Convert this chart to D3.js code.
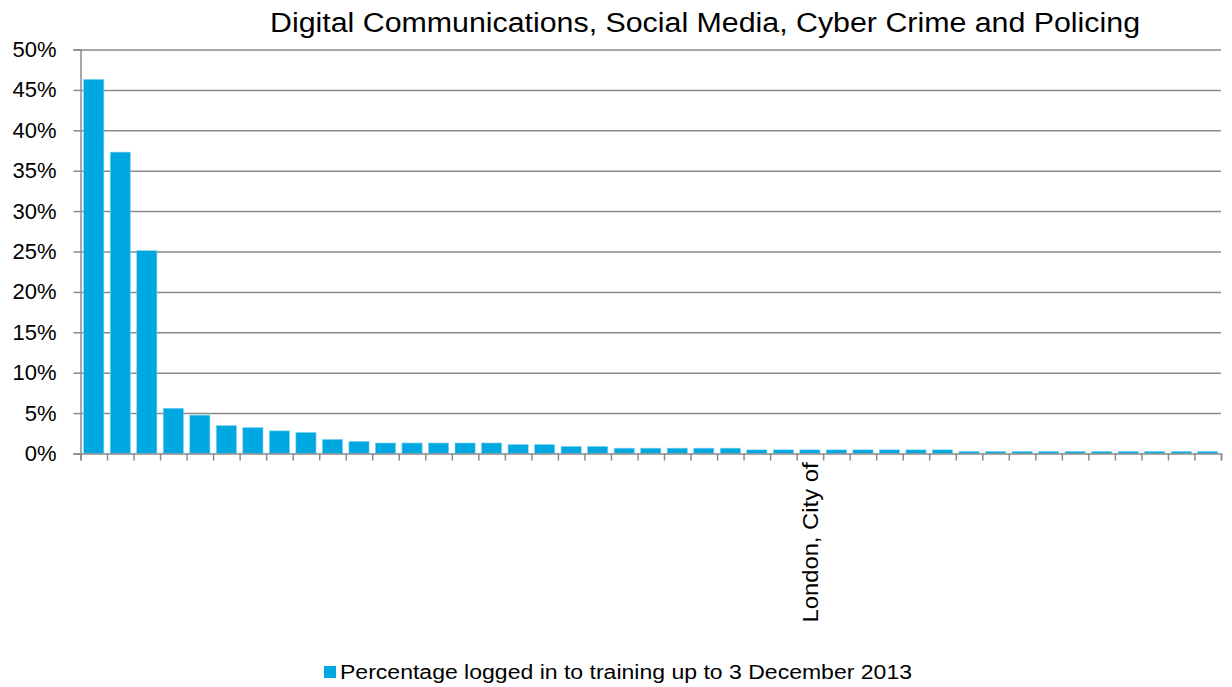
<!DOCTYPE html>
<html>
<head>
<meta charset="utf-8">
<script src="https://cdn.jsdelivr.net/npm/d3@7"></script>
<style>
  html, body { margin: 0; padding: 0; background: #fff; }
  svg { display: block; font-family: "Liberation Sans", Arial, sans-serif; }
</style>
</head>
<body>
<svg id="chart" width="1232" height="687"></svg>
<script>
// ---- data ----
const title = "Digital Communications, Social Media, Cyber Crime and Policing";
const seriesName = "Percentage logged in to training up to 3 December 2013";
// 43 forces; only one category label is visible in the original chart
const categoryLabels = [
  "", "", "", "", "", "", "", "", "", "",
  "", "", "", "", "", "", "", "", "", "",
  "", "", "", "", "", "", "", "London, City of", "", "",
  "", "", "", "", "", "", "", "", "", "",
  "", "", ""
];
const values = [
  46.3, 37.3, 25.1, 5.6, 4.75, 3.45, 3.2, 2.8, 2.6, 1.74,
  1.5, 1.3, 1.3, 1.3, 1.3, 1.3, 1.1, 1.1, 0.87, 0.87,
  0.66, 0.66, 0.66, 0.66, 0.66, 0.45, 0.45, 0.45, 0.45, 0.45,
  0.45, 0.45, 0.45, 0.25, 0.25, 0.25, 0.25, 0.25, 0.25, 0.25,
  0.25, 0.25, 0.25
];
const yTicks = [0, 5, 10, 15, 20, 25, 30, 35, 40, 45, 50];

// ---- layout ----
const svg = d3.select("#chart");
const plotLeft = 80.5, plotRight = 1221, plotTop = 49.5, plotBottom = 453.5;
const barColor = "#00a8e1";
const gridColor = "#8a8a8a";

const idx = d3.range(values.length);
const x = d3.scaleBand().domain(idx).range([plotLeft, plotRight]).paddingInner(0.24).paddingOuter(0.12);
const xEdge = d3.scaleLinear().domain([0, values.length]).range([plotLeft, plotRight]);
const y = d3.scaleLinear().domain([0, 50]).range([plotBottom, plotTop]);

// gridlines
svg.append("g")
  .attr("transform", `translate(${plotLeft},0)`)
  .call(d3.axisLeft(y).tickValues(yTicks.slice(1)).tickSize(-(plotRight - plotLeft)).tickFormat(""))
  .call(g => g.select(".domain").remove())
  .call(g => g.selectAll("line").attr("stroke", gridColor).attr("stroke-width", 1.5));

// bars
svg.append("g").selectAll("rect").data(values).join("rect")
  .attr("x", (d, i) => x(i))
  .attr("width", x.bandwidth())
  .attr("y", d => y(d))
  .attr("height", d => y(0) - y(d))
  .attr("fill", barColor)
  .attr("stroke", "#7fd3f0")
  .attr("stroke-width", 0.6);

// y axis
svg.append("g")
  .attr("transform", `translate(${plotLeft},0)`)
  .call(d3.axisLeft(y).tickValues(yTicks).tickSize(7).tickPadding(17).tickFormat(d => d + "%"))
  .call(g => g.select(".domain").attr("stroke", gridColor).attr("stroke-width", 1.5))
  .call(g => g.selectAll("line").attr("stroke", gridColor).attr("stroke-width", 1.5))
  .call(g => g.selectAll("text").attr("font-size", 22).attr("fill", "#000")
    .attr("font-family", "Liberation Sans, Arial, sans-serif"));

// x axis (ticks at category boundaries)
svg.append("g")
  .attr("transform", `translate(0,${plotBottom})`)
  .call(d3.axisBottom(xEdge).tickValues(d3.range(values.length + 1)).tickSize(7).tickFormat(""))
  .call(g => g.select(".domain").attr("stroke", gridColor).attr("stroke-width", 1.5))
  .call(g => g.selectAll("line").attr("stroke", gridColor).attr("stroke-width", 1.5));

// category labels
svg.append("g").selectAll("text").data(idx.filter(i => categoryLabels[i] !== "")).join("text")
  .attr("transform", i => `translate(${x(i) + x.bandwidth() / 2 + 8.5},${plotBottom + 9}) rotate(-90)`)
  .attr("text-anchor", "end")
  .attr("font-size", 22)
  .attr("fill", "#000")
  .attr("textLength", 160).attr("lengthAdjust", "spacingAndGlyphs")
  .text(i => categoryLabels[i]);

// title
svg.append("text")
  .attr("x", 270).attr("y", 32)
  .attr("font-size", 27)
  .attr("fill", "#000")
  .attr("textLength", 870).attr("lengthAdjust", "spacingAndGlyphs")
  .text(title);

// legend
svg.append("rect").attr("x", 324).attr("y", 666).attr("width", 12).attr("height", 12).attr("fill", barColor);
svg.append("text")
  .attr("x", 340).attr("y", 679)
  .attr("font-size", 20)
  .attr("fill", "#000")
  .attr("textLength", 572).attr("lengthAdjust", "spacingAndGlyphs")
  .text(seriesName);
</script>
</body>
</html>
